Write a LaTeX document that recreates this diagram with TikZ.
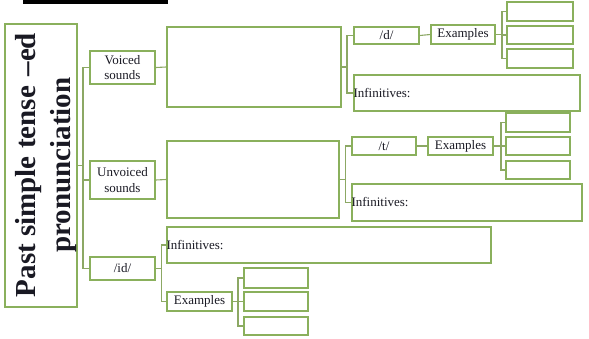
\documentclass[tikz,border=0pt]{standalone}
\usepackage{fontspec}
\setmainfont{Liberation Serif}
\definecolor{gbord}{RGB}{138,176,92}
\definecolor{gline}{RGB}{140,168,100}
\definecolor{txt}{RGB}{25,25,35}
\tikzset{
  box/.style={draw=gbord, line width=1.3pt, inner sep=0pt, text=txt,
    font=\fontsize{13}{15.5}\selectfont, align=center},
  conn/.style={draw=gline, line width=1.1pt},
  lbl/.style={anchor=west, inner sep=0pt, text=txt, font=\fontsize{13}{15.5}\selectfont}
}
\begin{document}
\begin{tikzpicture}[x=1pt,y=-1pt]
\useasboundingbox (0,0) rectangle (589,338);
\fill[black] (23,0) rectangle (168,4);
% title
\node[box, minimum width=72pt, minimum height=283pt] (title) at (41,165.5) {};
\node[text=txt, rotate=90, align=center, inner sep=0pt,
  font=\fontsize{29}{35}\selectfont\bfseries] (ttext) at (46,165) {Past simple tense\,\,–ed\\pronunciation};
% level 1
\node[box, minimum width=65pt, minimum height=33pt] (voiced) at (122.5,67.5) {Voiced\\sounds};
\node[box, minimum width=65pt, minimum height=38pt] (unvoiced) at (122.5,180) {Unvoiced\\sounds};
\node[box, minimum width=65pt, minimum height=23pt] (id) at (122.5,268.5) {/id/};
% big blank boxes
\node[box, minimum width=174pt, minimum height=80pt] (big1) at (254,67) {};
\node[box, minimum width=172pt, minimum height=77pt] (big2) at (253,179.5) {};
% voiced branch
\node[box, minimum width=65pt, minimum height=17pt] (d) at (386.5,35.5) {/d/};
\node[box, minimum width=64pt, minimum height=19pt] (exA) at (463,34.5) {Examples};
\node[box, minimum width=66pt, minimum height=19pt] (sA1) at (540,11.5) {};
\node[box, minimum width=66pt, minimum height=18pt] (sA2) at (540,35) {};
\node[box, minimum width=66pt, minimum height=19pt] (sA3) at (540,58.5) {};
\node[box, minimum width=226pt, minimum height=36pt] (infA) at (467,93) {};
\node[lbl] (infAt) at (infA.west) {Infinitives:};
% unvoiced branch
\node[box, minimum width=64pt, minimum height=18pt] (t) at (384,146) {/t/};
\node[box, minimum width=65pt, minimum height=18pt] (exB) at (460.5,146) {Examples};
\node[box, minimum width=64pt, minimum height=19pt] (sB1) at (538,122.5) {};
\node[box, minimum width=64pt, minimum height=18pt] (sB2) at (538,146) {};
\node[box, minimum width=64pt, minimum height=18pt] (sB3) at (538,170) {};
\node[box, minimum width=230pt, minimum height=37pt] (infB) at (467,202.5) {};
\node[lbl] (infBt) at (infB.west) {Infinitives:};
% id branch
\node[box, minimum width=324pt, minimum height=36pt] (infC) at (329,245) {};
\node[lbl] (infCt) at (infC.west) {Infinitives:};
\node[box, minimum width=65pt, minimum height=19pt] (exC) at (199.5,301.5) {Examples};
\node[box, minimum width=64pt, minimum height=20pt] (sC1) at (276,278) {};
\node[box, minimum width=64pt, minimum height=19pt] (sC2) at (276,301.5) {};
\node[box, minimum width=64pt, minimum height=18pt] (sC3) at (276,326) {};
% bracket columns
\coordinate (tr) at (83,0);
\coordinate (bA) at (347,0);
\coordinate (cA) at (502,0);
\coordinate (bB) at (345.5,0);
\coordinate (cB) at (501,0);
\coordinate (bC) at (161.5,0);
\coordinate (cC) at (238,0);
% connectors
\draw[conn] (title.east) -- (title.east -| tr);
\draw[conn] (voiced.west) -- (voiced.west -| tr) |- (id.west);
\draw[conn] (unvoiced.west) -- (unvoiced.west -| tr);
\draw[conn] (voiced.east) -- (big1.west);
\draw[conn] (unvoiced.east) -- (big2.west);
\draw[conn] (big1.east) -- (big1.east -| bA);
\draw[conn] (d.west) -- (d.west -| bA) |- (infA.west);
\draw[conn] (d.east) -- (exA.west);
\draw[conn] (exA.east) -- (exA.east -| cA);
\draw[conn] (sA1.west) -- (sA1.west -| cA) |- (sA3.west);
\draw[conn] (sA2.west) -- (sA2.west -| cA);
\draw[conn] (big2.east) -- (big2.east -| bB);
\draw[conn] (t.west) -- (t.west -| bB) |- (infB.west);
\draw[conn] (t.east) -- (exB.west);
\draw[conn] (exB.east) -- (exB.east -| cB);
\draw[conn] (sB1.west) -- (sB1.west -| cB) |- (sB3.west);
\draw[conn] (sB2.west) -- (sB2.west -| cB);
\draw[conn] (id.east) -- (id.east -| bC);
\draw[conn] (infC.west) -- (infC.west -| bC) |- (exC.west);
\draw[conn] (exC.east) -- (exC.east -| cC);
\draw[conn] (sC1.west) -- (sC1.west -| cC) |- (sC3.west);
\draw[conn] (sC2.west) -- (sC2.west -| cC);
\end{tikzpicture}
\end{document}
